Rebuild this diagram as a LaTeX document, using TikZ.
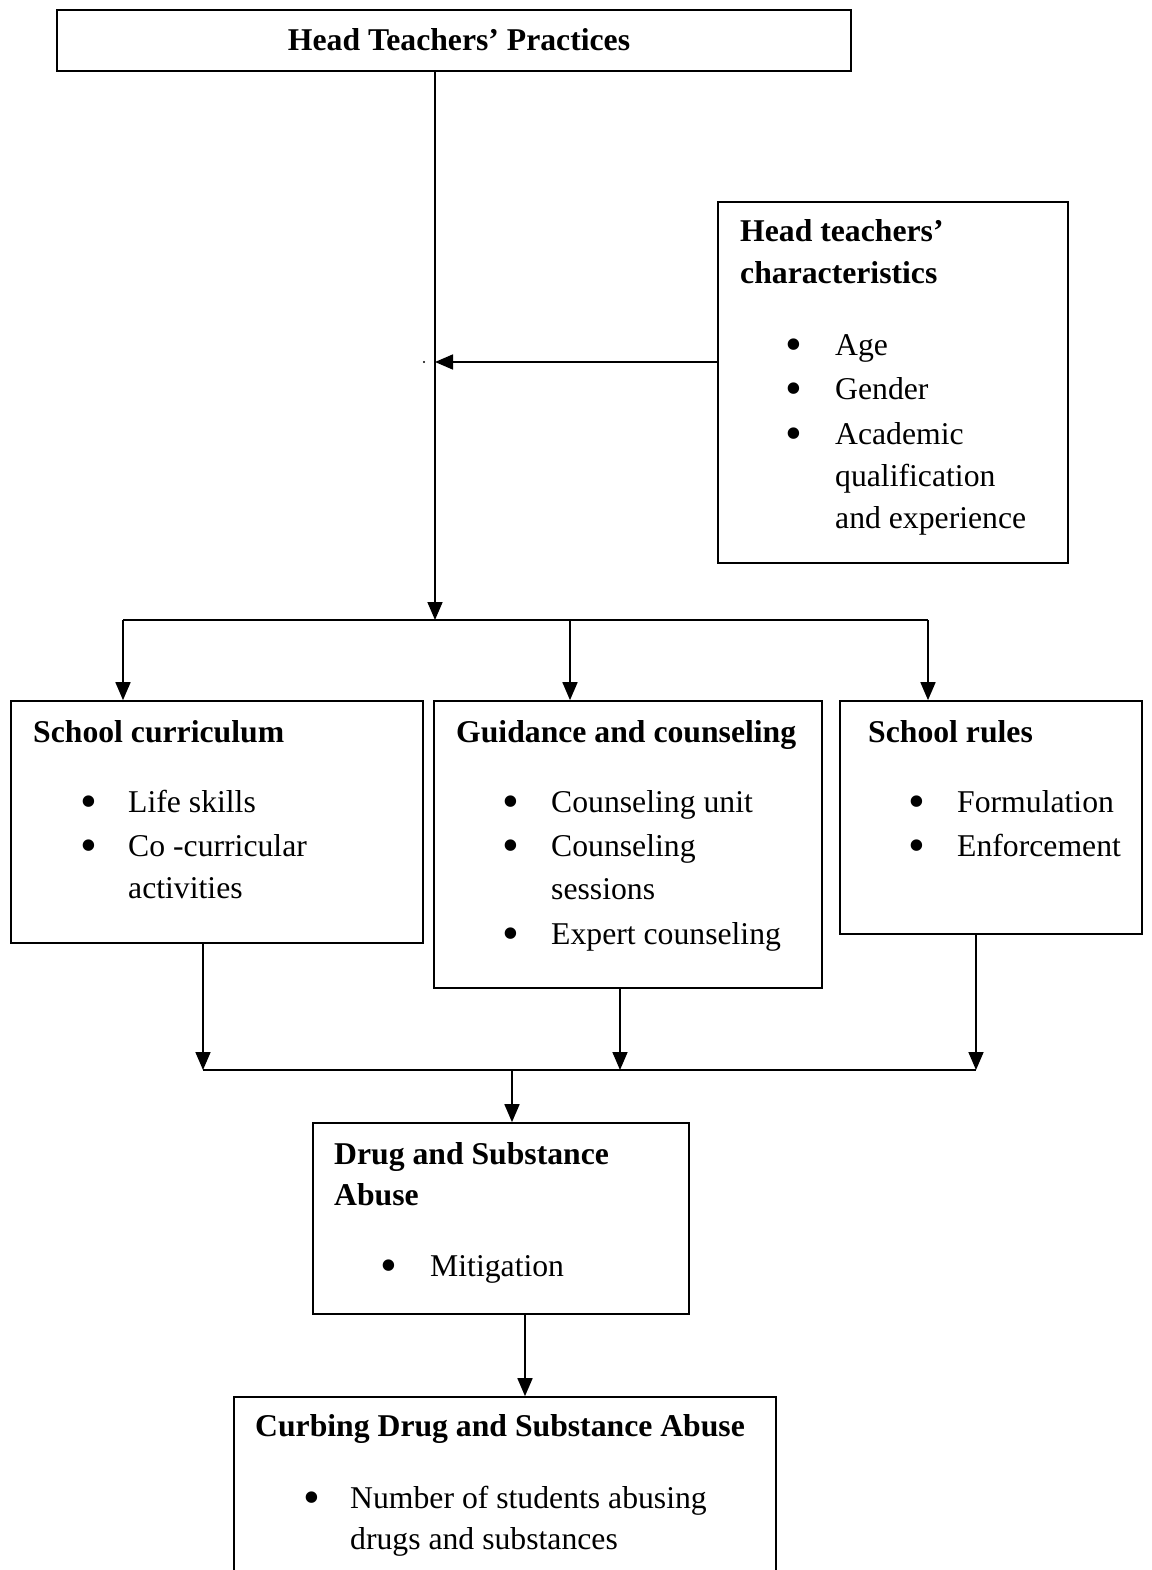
\documentclass[tikz,border=0pt]{standalone}
\usepackage{fontspec}
\setmainfont{Liberation Serif}
\usetikzlibrary{arrows.meta}
\begin{document}
\begin{tikzpicture}[x=1pt,y=-1pt,
  box/.style={draw,line width=1.7pt,inner sep=0pt,rectangle},
  txt/.style={anchor=base west,inner sep=0pt,font=\fontsize{31.7}{42}\selectfont},
  hdr/.style={txt,font=\fontsize{31.7}{42}\selectfont\bfseries},
  bul/.style={anchor=base,inner sep=0pt,yshift=-5pt,font=\fontsize{48}{48}\selectfont},
  con/.style={line width=1.7pt},
  arr/.style={con,-{Triangle[length=18pt,width=15pt]}}]
\useasboundingbox (0,0) rectangle (1151,1570);
\clip (0,0) rectangle (1151,1570);
% boxes
\node[box,minimum width=794pt,minimum height=61pt] (top) at (454,40.5) {};
\node[box,minimum width=350pt,minimum height=361pt] (char) at (893,382.5) {};
\node[box,minimum width=412pt,minimum height=242pt] (cur) at (217,822) {};
\node[box,minimum width=388pt,minimum height=287pt] (gc) at (628,844.5) {};
\node[box,minimum width=302pt,minimum height=233pt] (rules) at (991,817.5) {};
\node[box,minimum width=376pt,minimum height=191pt] (drug) at (501,1218.5) {};
\node[box,minimum width=542pt,minimum height=203pt] (curb) at (505,1498.5) {};
% texts
\node[hdr,anchor=base] (ttop) at (459,51) {Head Teachers’ Practices};
\node[hdr] (tc1) at (740,242) {Head teachers’};
\node[hdr] (tc2) at (740,283) {characteristics};
\node[bul] (bc1) at (794,355) {•};
\node[txt] (c1) at (835,355) {Age};
\node[bul] (bc2) at (794,399) {•};
\node[txt] (c2) at (835,399) {Gender};
\node[bul] (bc3) at (794,444) {•};
\node[txt] (c3) at (835,444) {Academic};
\node[txt] (c4) at (835,486) {qualification};
\node[txt] (c5) at (835,528) {and experience};
\node[hdr] (tcur) at (33,742) {School curriculum};
\node[bul] (bu1) at (89,812) {•};
\node[txt] (u1) at (128,812) {Life skills};
\node[bul] (bu2) at (89,856) {•};
\node[txt] (u2) at (128,856) {Co -curricular};
\node[txt] (u3) at (128,898) {activities};
\node[hdr] (tgc) at (456,742) {Guidance and counseling};
\node[bul] (bg1) at (511,812) {•};
\node[txt] (g1) at (551,812) {Counseling unit};
\node[bul] (bg2) at (511,856) {•};
\node[txt] (g2) at (551,856) {Counseling};
\node[txt] (g3) at (551,899) {sessions};
\node[bul] (bg4) at (511,944) {•};
\node[txt] (g4) at (551,944) {Expert counseling};
\node[hdr] (trules) at (868,742) {School rules};
\node[bul] (br1) at (917,812) {•};
\node[txt] (r1) at (957,812) {Formulation};
\node[bul] (br2) at (917,856) {•};
\node[txt] (r2) at (957,856) {Enforcement};
\node[hdr] (td1) at (334,1164) {Drug and Substance};
\node[hdr] (td2) at (334,1205) {Abuse};
\node[bul] (bd1) at (389,1276) {•};
\node[txt] (d1) at (430,1276) {Mitigation};
\node[hdr] (tcb) at (255,1436) {Curbing Drug and Substance Abuse};
\node[bul] (bb1) at (312,1508) {•};
\node[txt] (b1) at (350,1508) {Number of students abusing};
\node[txt] (b2) at (350,1549) {drugs and substances};
% junction coordinates
\coordinate (j0) at (435,620);
\coordinate (m) at (435,362);
\coordinate (s1) at (123,620);
\coordinate (s2) at (570,620);
\coordinate (s3) at (928,620);
\coordinate (k1) at (203,1070);
\coordinate (k2) at (620,1070);
\coordinate (k3) at (976,1070);
\coordinate (k0) at (512,1070);
\coordinate (v) at (525,1350);
% stray dot
\fill (424,362) circle (1.1pt);
% connectors
\draw[arr] (top.south -| j0) -- (j0);
\draw[arr] (char.west |- m) -- (m);
\draw[con] (s1) -- (s3);
\draw[arr] (s1) -- (s1 |- cur.north);
\draw[arr] (s2) -- (s2 |- gc.north);
\draw[arr] (s3) -- (s3 |- rules.north);
\draw[arr] (cur.south -| k1) -- (k1);
\draw[arr] (gc.south -| k2) -- (k2);
\draw[arr] (rules.south -| k3) -- (k3);
\draw[con] (k1) -- (k3);
\draw[arr] (k0) -- (k0 |- drug.north);
\draw[arr] (drug.south -| v) -- (curb.north -| v);
\end{tikzpicture}
\end{document}
